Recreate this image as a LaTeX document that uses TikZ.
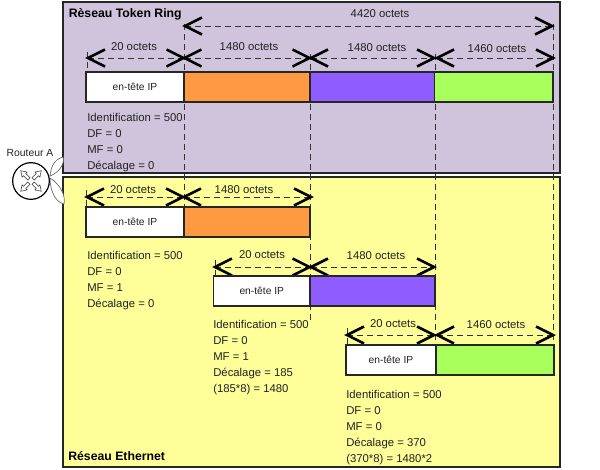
\documentclass[tikz,border=0pt]{standalone}
\usepackage{fontspec}
\setmainfont{Liberation Sans}
\definecolor{ringbg}{HTML}{CFC4DC}
\definecolor{ethbg}{HTML}{FFFF99}
\definecolor{fragA}{HTML}{FF9A42}
\definecolor{fragB}{HTML}{8F5CFF}
\definecolor{fragC}{HTML}{A8FF5C}
\definecolor{txt}{HTML}{222222}
\tikzset{
 x=0.75pt,y=-0.75pt,
 panel/.style={draw=black!85,line width=1.5pt,anchor=north west,inner sep=0pt,outer sep=0pt},
 fragbox/.style={draw=black!85,line width=1.3pt,inner sep=0pt,outer sep=0pt,anchor=north west,minimum height=22.5pt,font=\fontsize{7.7}{8}\selectfont,text=txt},
 guide/.style={draw=black!80,line width=0.5pt,dash pattern=on 4.5pt off 3pt},
 chev/.style={draw=black,line width=2pt,miter limit=10},
 lab/.style={font=\fontsize{8.5}{9}\selectfont,text=txt,inner sep=0pt},
 info/.style={font=\fontsize{8.5}{12}\selectfont,text=txt,anchor=north west,inner sep=0pt,align=left},
 title/.style={font=\bfseries\fontsize{9.2}{10}\selectfont,text=black,anchor=west,inner sep=0pt},
 leaf/.style={draw=black!60,fill=white,line width=0.5pt},
 spoke/.style={draw=black!80,fill=white,line width=0.4pt}
}
\newcommand{\fragspan}[4]{% name x1 x2 y
 \coordinate (#1a) at (#2,#4); \coordinate (#1b) at (#3,#4);
 \draw[guide] (#1a) -- (#1b);
 \draw[chev] ([shift={(17,-8.5)}]#1a) -- (#1a) -- ([shift={(17,8.5)}]#1a);
 \draw[chev] ([shift={(-17,-8.5)}]#1b) -- (#1b) -- ([shift={(-17,8.5)}]#1b);}
\begin{document}
\begin{tikzpicture}
\useasboundingbox (0,0) rectangle (600,469);
\fill[white] (0,0) rectangle (600,469);
% panels
\node[panel,fill=ringbg,minimum width=372.5pt,minimum height=128.3pt] (ring) at (63,2) {};
\node[panel,fill=ethbg,minimum width=372.5pt,minimum height=217.5pt] (eth) at (63,177) {};
\node[title] (ringT) at (68.5,14) {Rèseau Token Ring};
\node[title] (ethT) at (68,456.5) {Réseau Ethernet};
% guides
\coordinate (g1t) at (184,24); \coordinate (g1b) at (184,207);
\coordinate (g2t) at (310,54); \coordinate (g2b) at (310,320);
\coordinate (g3t) at (435,54); \coordinate (g3b) at (435,345);
\coordinate (g4t) at (553,24); \coordinate (g4b) at (553,345);
\draw[guide] (g1t)--(g1b); \draw[guide] (g2t)--(g2b);
\draw[guide] (g3t)--(g3b); \draw[guide] (g4t)--(g4b);
\coordinate (t1t) at (87,52); \coordinate (t1b) at (87,72); \draw[guide] (t1t)--(t1b);
\coordinate (t2t) at (86,190); \coordinate (t2b) at (86,207); \draw[guide] (t2t)--(t2b);
\coordinate (t3t) at (215,260); \coordinate (t3b) at (215,276); \draw[guide] (t3t)--(t3b);
\coordinate (t4t) at (347,328); \coordinate (t4b) at (347,345); \draw[guide] (t4t)--(t4b);
% spans
\fragspan{s0}{185}{552}{26}
\fragspan{s1}{88}{183.5}{58}
\fragspan{s2}{184.5}{309.5}{58}
\fragspan{s3}{311}{434}{58}
\fragspan{s4}{437}{553}{58}
\fragspan{s5}{87}{183}{197}
\fragspan{s6}{184}{311}{197}
\fragspan{s7}{215}{309.5}{267}
\fragspan{s8}{311}{434}{267}
\fragspan{s9}{347}{434}{335}
\fragspan{s10}{437}{553}{335}
% token ring bar
\node[fragbox,fill=white,minimum width=73.5pt] (r0) at (86,72) {en-tête IP};
\node[fragbox,fill=fragA,minimum width=94.5pt] (r1) at (184,72) {};
\node[fragbox,fill=fragB,minimum width=93.4pt] (r2) at (310,72) {};
\node[fragbox,fill=fragC,minimum width=88.9pt,line width=0.9pt] (r3) at (434.5,72) {};
% ethernet bars
\node[fragbox,fill=white,minimum width=73.5pt] (a0) at (86,207) {en-tête IP};
\node[fragbox,fill=fragA,minimum width=94.5pt] (a1) at (184,207) {};
\node[fragbox,fill=white,minimum width=72.4pt] (b0) at (213.5,276) {en-tête IP};
\node[fragbox,fill=fragB,minimum width=94pt] (b1) at (310,276) {};
\node[fragbox,fill=white,minimum width=67.5pt] (c0) at (346,345) {en-tête IP};
\node[fragbox,fill=fragC,minimum width=88.5pt] (c1) at (436,345) {};
% labels
\node[lab] (l0) at (380,14) {4420 octets};
\node[lab] (l1) at (134,47) {20 octets};
\node[lab] (l2) at (249,47) {1480 octets};
\node[lab] (l3) at (377,48) {1480 octets};
\node[lab] (l4) at (497,49) {1460 octets};
\node[lab] (l5) at (133,190) {20 octets};
\node[lab] (l6) at (244,190) {1480 octets};
\node[lab] (l7) at (262,255) {20 octets};
\node[lab] (l8) at (376,256) {1480 octets};
\node[lab] (l9) at (393,324) {20 octets};
\node[lab] (l10) at (496,325) {1460 octets};
% info
\node[info] (i0) at (87,113) {Identification = 500\\DF = 0\\MF = 0\\Décalage = 0};
\node[info] (i1) at (87,251) {Identification = 500\\DF = 0\\MF = 1\\Décalage = 0};
\node[info] (i2) at (213,320) {Identification = 500\\DF = 0\\MF = 1\\Décalage = 185\\(185*8) = 1480};
\node[info] (i3) at (346,390) {Identification = 500\\DF = 0\\MF = 0\\Décalage = 370\\(370*8) = 1480*2};
% router
\draw[leaf] (50,176) .. controls (51,168) and (53,160) .. (63,157) .. controls (65,163) and (60,172) .. (50,176);
\draw[leaf] (50,178) .. controls (50,188) and (54,202) .. (64,204) .. controls (66,196) and (60,184) .. (50,178);
\node[draw=black,fill=white,circle,line width=0.9pt,minimum size=27.5pt,inner sep=0pt] (routerA) at (31,181) {};
\foreach \a in {45,135,225,315}{
 \begin{scope}[shift={(31,181)},rotate=\a]
  \draw[spoke] (3,-1.6)--(9,-1.6)--(9,-3.6)--(14.5,0)--(9,3.6)--(9,1.6)--(3,1.6)--cycle;
 \end{scope}}
\node[lab,font=\fontsize{7.8}{9}\selectfont] (routerL) at (30,153) {Routeur A};
\end{tikzpicture}
\end{document}
